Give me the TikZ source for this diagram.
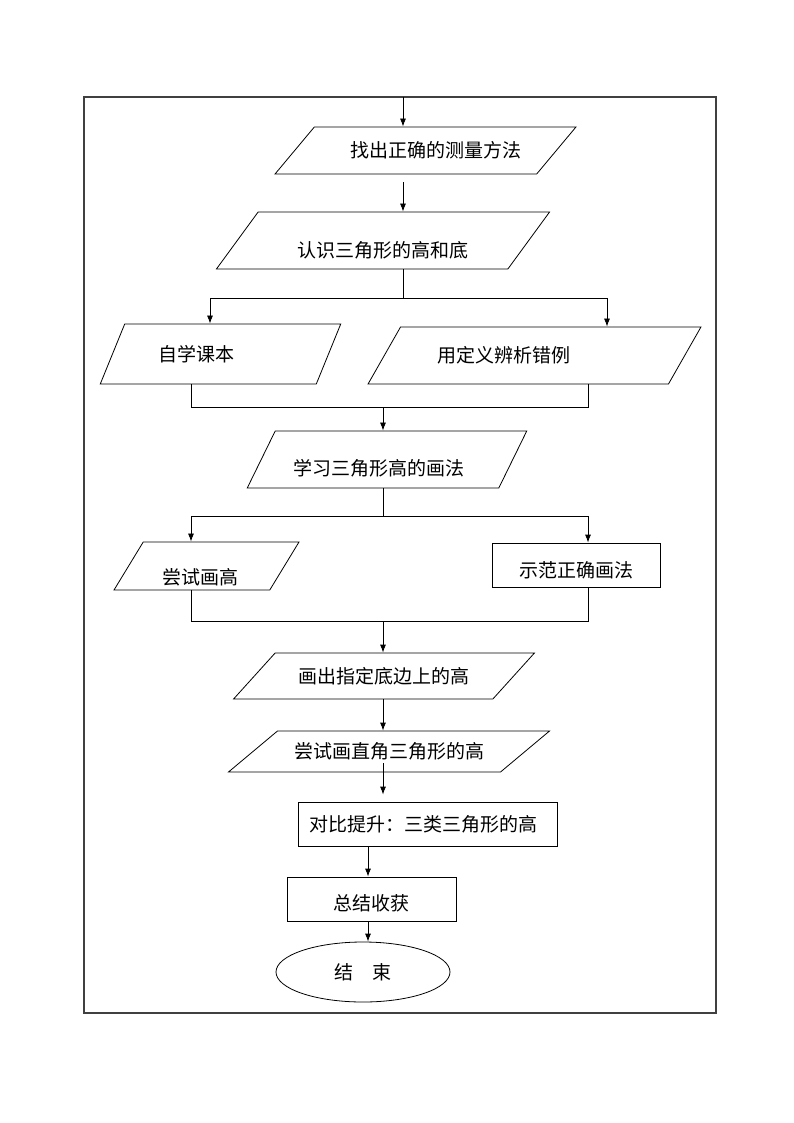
\documentclass[tikz,border=0pt]{standalone}
\usepackage{fontspec}
\newfontfamily\cjk{Noto Sans CJK SC}
\usetikzlibrary{shapes.geometric,arrows.meta}
\tikzset{
  io/.style={trapezium, trapezium stretches=true, draw, inner sep=2pt,
    trapezium left angle=#1, trapezium right angle=180-#1},
  proc/.style={rectangle, draw},
  term/.style={ellipse, draw},
  lowtext/.style={text depth=0pt, text height=#1},
}
\begin{document}
\begin{tikzpicture}[x=1pt, y=-1pt, line width=0.8pt, >={Latex[length=8pt,width=6pt]},
  font=\cjk\fontsize{19}{23}\selectfont]
    \useasboundingbox (0,0) rectangle (794,1123);

    % 外框
    \draw[line width=1.5pt, black!75] (84,97) rectangle (716,1013);

    % 步骤
    \node[io=32, minimum width=301pt, minimum height=47pt] (find) at (425.5,150.5) {\hspace*{21pt}找出正确的测量方法};
    \node[io=52, minimum width=334pt, minimum height=57pt, lowtext=33.4pt] (know) at (383,240.5) {认识三角形的高和底};
    \node[io=53, minimum width=241pt, minimum height=60pt] (self) at (220.5,354) {自学课本\hspace*{48pt}};
    \node[io=42, minimum width=333pt, minimum height=57pt] (def) at (534.5,355.5) {用定义辨析错例\hspace*{62pt}};
    \node[io=56, minimum width=280pt, minimum height=57pt, lowtext=31.4pt] (learn) at (387,459.5) {学习三角形高的画法\hspace*{16pt}};
    \node[io=62, minimum width=185pt, minimum height=48pt, lowtext=36.4pt] (try) at (206.5,566) {尝试画高\hspace*{13pt}};
    \node[proc, minimum width=168pt, minimum height=44pt, lowtext=24.4pt] (demo) at (576,565) {示范正确画法};
    \node[io=33, minimum width=302pt, minimum height=46pt] (base) at (384,676) {画出指定底边上的高};
    \node[io=27, minimum width=322pt, minimum height=41pt] (right) at (389,751.5) {尝试画直角三角形的高};
    \node[proc, minimum width=259pt, minimum height=44pt] (cmp) at (427.5,824) {对比提升：三类三角形的高\hspace*{9pt}};
    \node[proc, minimum width=169pt, minimum height=44pt, lowtext=22.4pt] (sum) at (371.5,899) {总结收获};
    \node[term, minimum width=174pt, minimum height=60pt] (fin) at (363,972) {结\quad 束};

    % 主干
    \coordinate (top) at (403,97);
    \coordinate (mid) at (383,407);
    \coordinate (low) at (368,846);
    \draw[->] (top) -- (top |- find.north);
    \draw[->, shorten <=8pt] (find.south -| top) -- (know.north -| top);

    % 分支一
    \coordinate (sl1) at (210,298);
    \coordinate (sr1) at (607,298);
    \draw (know.south -| top) -- (sl1 -| top);
    \draw[->] (sl1 -| top) -- (sl1) -- (sl1 |- self.north);
    \draw[->] (sl1 -| top) -- (sr1) -- (sr1 |- def.north);
    \coordinate (ml1) at (191,407);
    \coordinate (mr1) at (588,407);
    \draw (self.south -| ml1) -- (ml1) -- (mr1) -- (def.south -| mr1);
    \draw[->] (mid) -- (mid |- learn.north);

    % 分支二
    \coordinate (sl2) at (191,516);
    \coordinate (sr2) at (588,516);
    \draw (learn.south -| mid) -- (sl2 -| mid);
    \draw[->] (sl2 -| mid) -- (sl2) -- (sl2 |- try.north);
    \draw[->] (sl2 -| mid) -- (sr2) -- (sr2 |- demo.north);
    \coordinate (ml2) at (191,621);
    \coordinate (mr2) at (588,621);
    \coordinate (mid2) at (383,621);
    \draw (try.south -| ml2) -- (ml2) -- (mr2) -- (demo.south -| mr2);
    \draw[->] (mid2) -- (mid2 |- base.north);

    % 后续
    \draw[->] (base.south -| mid) -- (right.north -| mid);
    \draw[->, shorten <=-9pt, shorten >=7pt] (right.south -| mid) -- (cmp.north -| mid);
    \draw[->] (cmp.south -| low) -- (sum.north -| low);
    \draw[->] (sum.south -| low) -- (fin.north -| low);
\end{tikzpicture}
\end{document}
